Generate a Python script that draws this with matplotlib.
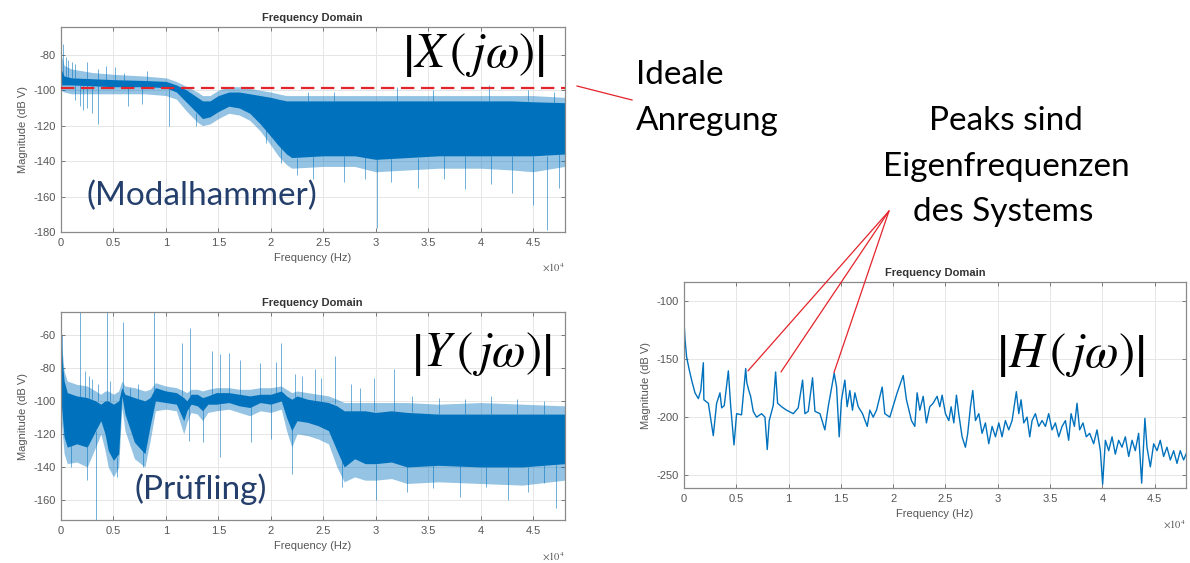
import matplotlib
matplotlib.use("Agg")
import matplotlib.pyplot as plt
from matplotlib.lines import Line2D
from matplotlib.patches import ConnectionPatch
import numpy as np

plt.rcParams['mathtext.fontset'] = 'stix'
plt.rcParams['font.family'] = ['Liberation Sans', 'DejaVu Sans']
plt.rcParams['axes.unicode_minus'] = False

W, H = 1190, 563
BLUE = '#0072BD'
RED = '#e3242b'
NAVY = '#243f6b'

# ---------- |X(jw)| Modalhammer (band envelope + spikes)
x_f = [0, 300, 1000, 3000, 5000, 8000, 10000, 11000, 12000, 13000, 13500, 14200, 15000,
       16000, 17000, 18000, 19000, 20000, 20700, 21500, 22000, 25000, 28000, 30000,
       33000, 36000, 40000, 43000, 45000, 48000]
x_core_hi = [-88, -92, -93, -93.5, -94, -94.5, -95, -97, -100, -104, -106, -106, -103,
             -101, -101, -102, -103, -104, -105, -106, -106, -106, -106, -106,
             -106, -106, -106, -106, -106.5, -107]
x_core_lo = [-97, -97, -97, -97.5, -98, -98, -98.5, -101, -107, -113, -116, -115, -112,
             -109, -110, -113, -119, -126, -131, -136, -138, -137, -137, -139,
             -138, -137, -137, -137, -137, -136]
x_fringe_hi = [-80, -86, -88, -90, -91, -92, -93, -95, -98, -101, -103, -103, -100,
               -98, -98, -99, -100, -101, -102, -103, -103, -103, -103, -103,
               -103, -103, -103, -103, -103, -104]
x_fringe_lo = [-100, -101, -102, -102, -102, -102, -103, -105, -112, -118, -120, -119, -116,
               -113, -114, -117, -123, -131, -137, -142, -144, -143, -143, -146,
               -145, -144, -144, -145, -146, -143]
x_up_f = [220, 500, 700, 1020, 1340, 2520, 3570, 4300, 5160, 6000, 8190,
          23500, 26000, 32000, 35500, 40800, 44500, 47000]
x_up_top = [-74, -81, -83, -84, -85, -84, -88, -86.5, -87, -90, -89,
            -101, -101, -98, -100, -97, -100, -101]
x_up_base = [-93, -93, -93, -93, -93, -94, -94, -94, -94, -94, -95,
             -106, -106, -106, -106, -106, -106, -107]
x_dn_f = [1340, 1820, 2070, 2520, 2930, 3570, 6430, 7710, 10260, 12900, 19500, 21000,
          22500, 24000, 27000, 29000, 30100, 31500, 34000, 36500, 38500, 41000, 43000,
          45000, 46300, 47500]
x_dn_bot = [-105.6, -109, -111, -110, -113, -119, -109, -108, -120, -120, -130, -141,
            -148, -150, -152, -150, -178, -152, -155, -150, -156, -153, -158,
            -165, -179, -155]
x_dn_base = [-97, -97, -97, -97, -97, -97, -98, -98, -98.5, -113, -119, -131,
             -138, -137, -137, -137, -139, -138, -138, -137, -137, -137, -137,
             -137, -137, -136]
ideal_level = -98.5

# ---------- |Y(jw)| Pruefling
y_f = [0, 300, 600, 1500, 2500, 3300, 3800, 4200, 4500, 5000, 5500, 5800, 6100, 7000,
       8000, 8500, 9000, 10000, 11000, 11700, 12000, 12400, 13000, 13500, 14000, 14800,
       16000, 17000, 18000, 19000, 20000, 21000, 21500, 22000, 22500, 23500, 24500,
       25500, 26300, 27000, 28000, 29000, 30000, 31500, 33000, 36000, 40000, 44000, 48000]
y_core_hi = [-68, -88, -95, -97, -98, -100, -102, -100, -100, -102, -100, -92, -96, -98,
             -100, -98, -92, -94, -95, -98, -100, -96, -96, -98, -97, -95,
             -95, -96, -97, -96, -96, -94, -97, -99, -97, -99, -100,
             -101, -103, -106, -106, -106, -107, -106, -107, -108, -108, -108, -108]
y_core_lo = [-100, -122, -128, -126, -128, -118, -112, -120, -130, -136, -132, -97, -108, -125,
             -132, -115, -100, -101, -102, -112, -106, -102, -103, -106, -102, -102,
             -101, -103, -104, -101, -102, -100, -110, -118, -112, -113, -115,
             -118, -130, -140, -135, -138, -138, -137, -140, -139, -140, -140, -138]
y_fringe_hi = [-62, -82, -88, -90, -91, -94, -96, -94, -94, -96, -94, -88, -91, -92,
               -94, -93, -89, -91, -92, -94, -95, -93, -93, -94, -93, -92,
               -92, -93, -93, -92, -92, -91, -93, -95, -94, -95, -96,
               -97, -99, -101, -101, -101, -101, -101, -101, -102, -101, -102, -103]
y_fringe_lo = [-110, -132, -138, -137, -140, -128, -120, -130, -140, -146, -140, -104, -118, -135,
               -140, -124, -106, -105, -106, -120, -113, -107, -108, -112, -107, -106,
               -105, -107, -109, -106, -107, -105, -118, -128, -120, -121, -123,
               -126, -140, -149, -146, -148, -148, -147, -150, -149, -150, -151, -148]
y_up_f = [100, 1850, 2300, 2700, 3000, 3500, 4340, 4700, 5880, 6600, 7300, 8830,
          11540, 12330, 14400, 15200, 16000, 17110, 18960, 20460, 21000, 22280, 23010,
          24190, 24830, 26100, 27630, 28520, 29830, 31710, 33500, 36000, 38500, 41000,
          43500, 46000]
y_up_top = [-60, -40, -82, -85, -87, -90, -40, -88, -52, -92, -90, -40,
            -65, -56, -70, -71.5, -71, -75, -77, -76.5, -65, -84, -85,
            -81, -86, -73, -90, -92, -86, -81, -97, -98, -99, -97,
            -99, -100]
y_up_base = [-95, -98, -98, -98, -99, -100, -100, -100, -95, -98, -99, -95,
             -97, -98, -97, -96, -96, -97, -97, -96, -96, -99, -99,
             -100, -100, -102, -106, -106, -106, -106, -107, -108, -108, -108,
             -108, -108]
y_dn_f = [1000, 2500, 3340, 5300, 7800, 12240, 13500, 15200, 18070, 19980, 22050,
          26830, 30020, 33000, 35500, 38000, 40500, 42600, 44500, 46000, 47200]
y_dn_bot = [-140, -148, -175, -146, -140, -124, -125, -134, -125, -123, -144,
            -152, -160, -155, -153, -158, -152, -160, -155, -150, -165]
y_dn_base = [-126, -128, -118, -134, -130, -104, -104, -102, -103, -101, -116,
             -136, -138, -139, -139, -139, -140, -140, -140, -139, -138]

# ---------- |H(jw)| transfer function
h_f = [0, 100, 250, 500, 730, 1050, 1370, 1600, 1780, 1850, 1900, 2330, 2800, 3120, 3440,
       3600, 3850, 4240, 4460, 4780, 5030, 5500, 5900, 6000, 6200, 6370, 6620, 6940,
       7420, 7740, 7960, 8150, 8530, 8760, 8950, 9330, 9810, 10450, 10920, 11340,
       11560, 11880, 12290, 12520, 13000, 13470, 13790, 14360, 14590, 14840, 15060,
       15380, 15600, 15860, 16110, 16340, 16660, 17070, 17520, 17770, 18090, 18410,
       18950, 19200, 19680, 20380, 20960, 21270, 21750, 22070, 22290, 22550, 22870,
       23180, 23500, 23820, 24200, 24460, 24680, 25000, 25320, 25540, 25800, 26050,
       26270, 26590, 26910, 27130, 27390, 27610, 27870, 28190, 28500, 28820, 29140,
       29460, 29780, 30100, 30410, 30730, 31050, 31370, 31780, 32010, 32230, 32490,
       32800, 33060, 33280, 33600, 33920, 34240, 34560, 34870, 35190, 35510, 35830,
       36150, 36470, 36780, 37010, 37330, 37580, 37830, 38150, 38470, 38790, 39170,
       39490, 39810, 40030, 40290, 40610, 40930, 41240, 41560, 41880, 42200, 42520,
       42840, 43150, 43470, 43760, 44070, 44270, 44590, 44910, 45230, 45540, 45860,
       46180, 46500, 46820, 47140, 47450, 47770, 48000]
h_db = [-118, -133, -148, -159, -168, -179, -184, -177, -160, -153, -185, -188, -216, -188, -179,
        -192, -190, -160, -190, -224, -197, -198, -158, -170, -177, -182, -195, -200,
        -197, -200, -228, -203, -190, -161, -188, -191, -194, -197, -192, -168,
        -197, -195, -166, -195, -197, -211, -191, -162, -174, -217, -185,
        -168, -191, -177, -194, -179, -191, -197, -208, -194, -200, -194,
        -174, -197, -200, -179, -164, -185, -203, -208, -179, -194, -182,
        -205, -191, -188, -182, -191, -181, -197, -203, -191, -205, -181,
        -197, -217, -226, -214, -191, -177, -203, -197, -214, -205, -223,
        -208, -217, -205, -217, -203, -211, -203, -178, -197, -185, -205,
        -200, -217, -203, -197, -208, -203, -208, -197, -211, -205, -217,
        -208, -203, -220, -197, -208, -188, -211, -205, -217, -214, -223,
        -211, -229, -258, -220, -229, -217, -232, -220, -226, -217, -234,
        -220, -229, -214, -257, -201, -226, -243, -223, -229, -220, -234,
        -226, -237, -229, -240, -229, -237, -232]
peak_marks = [(6120, -160), (9270, -161), (14340, -161.5)]

xtick_vals = [0, 5000, 10000, 15000, 20000, 25000, 30000, 35000, 40000, 45000]
xtick_labels = ['0', '0.5', '1', '1.5', '2', '2.5', '3', '3.5', '4', '4.5']

fig = plt.figure(figsize=(W / 100, H / 100), dpi=100)


def px_axes(l, t, r, b):
    return fig.add_axes([l / W, 1 - b / H, (r - l) / W, (b - t) / H])


def matlab_style(ax, ylim, yticks):
    ax.set_xlim(0, 48000)
    ax.set_ylim(*ylim)
    ax.set_xticks(xtick_vals)
    ax.set_xticklabels(xtick_labels)
    ax.set_yticks(yticks)
    ax.tick_params(direction='in', top=True, right=True, length=3, width=0.6,
                   color='#666666', labelsize=8, labelcolor='#555555', pad=4)
    ax.grid(True, color='#e6e6e6', lw=0.7)
    ax.set_axisbelow(True)
    for s in ax.spines.values():
        s.set_color('#8a8a8a')
        s.set_linewidth(0.9)
    ax.set_title('Frequency Domain', fontsize=8, fontweight='bold', color='#333333', pad=4)
    ax.set_xlabel('Frequency (Hz)', fontsize=8, color='#555555', labelpad=4)
    ax.set_ylabel('Magnitude (dB V)', fontsize=8, color='#555555', labelpad=4)
    ax.text(1.0, -0.175, r'$\times10^{4}$', transform=ax.transAxes, ha='right', va='center',
            fontsize=7.5, color='#555555')


def band_plot(ax, f, core_hi, core_lo, fr_hi, fr_lo, up, dn):
    ax.fill_between(f, fr_lo, fr_hi, color=BLUE, alpha=0.42, lw=0)
    ax.fill_between(f, core_lo, core_hi, color=BLUE, lw=0)
    ax.vlines(up[0], up[2], up[1], color=BLUE, lw=0.6, alpha=0.65)
    ax.vlines(dn[0], dn[2], dn[1], color=BLUE, lw=0.6, alpha=0.65)


# top left: excitation
ax1 = px_axes(61, 27, 564.5, 232)
matlab_style(ax1, (-180, -64.3), np.arange(-180, -79, 20))
band_plot(ax1, x_f, x_core_hi, x_core_lo, x_fringe_hi, x_fringe_lo,
          (x_up_f, x_up_top, x_up_base), (x_dn_f, x_dn_bot, x_dn_base))
ax1.axhline(ideal_level, color=RED, lw=1.6, ls=(0, (6, 3)), zorder=5)

# bottom left: response
ax2 = px_axes(61, 312, 564.5, 520)
matlab_style(ax2, (-172.1, -46.2), np.arange(-160, -59, 20))
band_plot(ax2, y_f, y_core_hi, y_core_lo, y_fringe_hi, y_fringe_lo,
          (y_up_f, y_up_top, y_up_base), (y_dn_f, y_dn_bot, y_dn_base))

# right: transfer function
ax3 = px_axes(684, 282, 1186, 488.3)
matlab_style(ax3, (-261.5, -83.2), np.arange(-250, -99, 50))
ax3.plot(h_f, h_db, color=BLUE, lw=1.0)


def ftext(x, y, s, **kw):
    fig.text(x / W, 1 - y / H, s, **kw)


# formula labels
ftext(474, 55, r'$\left|X\,(\,j\omega)\right|$', fontsize=35, ha='center', va='center')
ftext(481, 354, r'$\left|Y\,(\,j\omega)\right|$', fontsize=35, ha='center', va='center')
ftext(1070, 355, r'$\left|H\,(\,j\omega)\right|$', fontsize=35, ha='center', va='center')

# slide annotations
ann = dict(fontsize=24, family=['Lato', 'DejaVu Sans'])
ftext(86, 205, '(Modalhammer)', color=NAVY, va='baseline', **ann)
ftext(134, 499, '(Prüfling)', color=NAVY, va='baseline', **ann)
ftext(636, 84, 'Ideale', color='black', va='baseline', **ann)
ftext(636, 130, 'Anregung', color='black', va='baseline', **ann)
ftext(1006, 130, 'Peaks sind', color='black', va='baseline', ha='center', **ann)
ftext(1006, 176, 'Eigenfrequenzen', color='black', va='baseline', ha='center', **ann)
ftext(1003, 221, 'des Systems', color='black', va='baseline', ha='center', **ann)

# red pointer lines
fig.add_artist(Line2D([577 / W, 632 / W], [1 - 86 / H, 1 - 100 / H],
                      transform=fig.transFigure, color=RED, lw=0.9))
for fx, fy in peak_marks:
    con = ConnectionPatch(xyA=(889, H - 211), coordsA='figure pixels',
                          xyB=(fx, fy), coordsB=ax3.transData,
                          color=RED, lw=0.9)
    fig.add_artist(con)

fig.savefig('out.png', dpi=100)
